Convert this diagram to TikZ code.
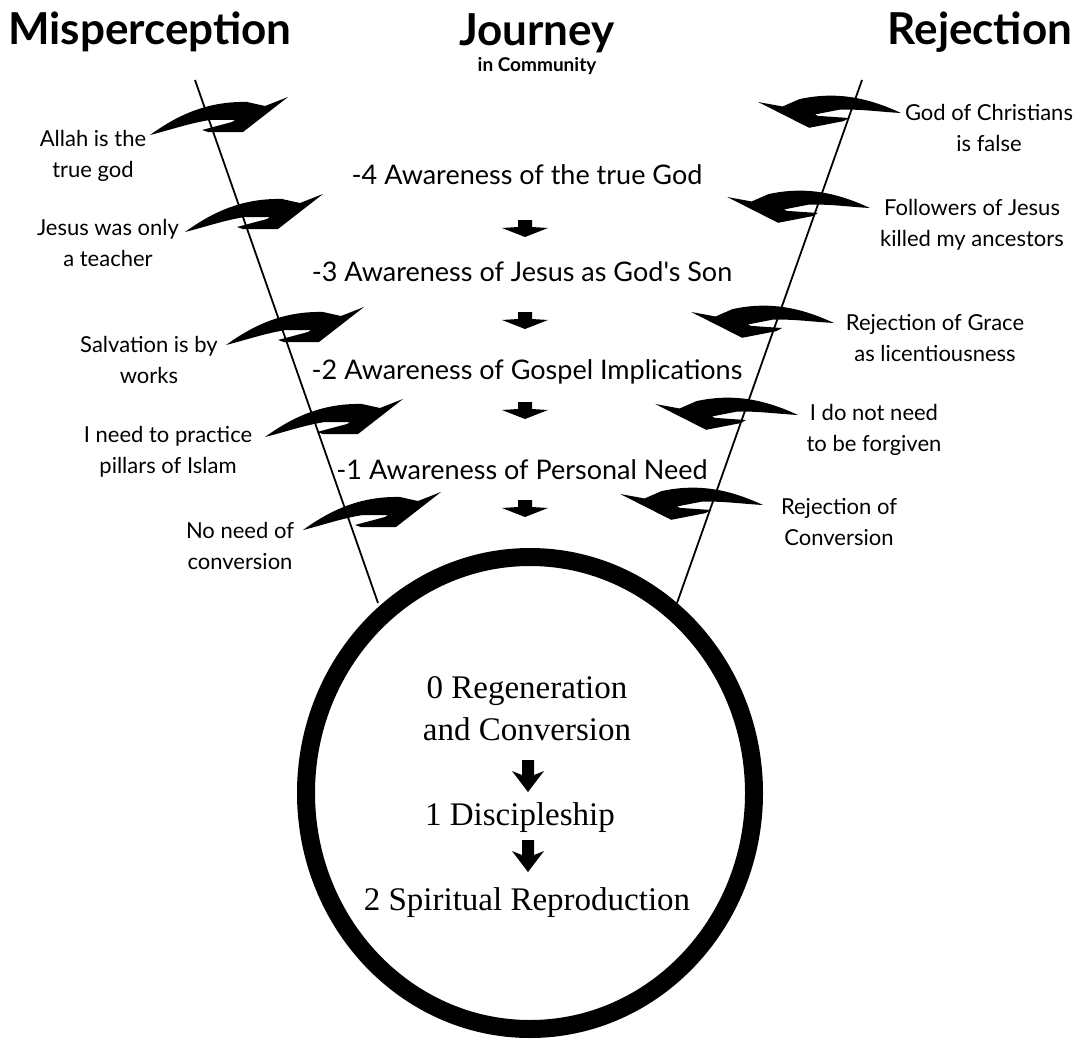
\documentclass[tikz,border=0pt]{standalone}
\usepackage{fontspec}
\setmainfont{Liberation Serif}
\newfontfamily\labelfont{Lato}
\usetikzlibrary{shapes.geometric, positioning}
\tikzset{
  titletext/.style={font=\labelfont\bfseries\fontsize{44}{48}\selectfont, inner sep=0pt},
  stagetext/.style={font=\labelfont\fontsize{27}{30}\selectfont, inner sep=0pt},
  barriertext/.style={font=\labelfont\fontsize{22}{31}\selectfont, align=center, inner sep=0pt},
  corestage/.style={font=\fontsize{33}{42}\selectfont, align=center, inner sep=0pt},
  funnelline/.style={line width=1.8pt, black},
  corering/.style={draw, ellipse, line width=18pt, minimum width=448pt, minimum height=472pt}
}
% swoosh: a barrier thrown back at the traveller
\newcommand{\swooshpath}{(0,0) .. controls (25,-18) and (55,-34) .. (97,-33) -- (115,-29) -- (138,-38) -- (93,-3) -- (58,-3) -- (52,-5) -- (82,-13) -- (85,-15) -- (60,-15) .. controls (40,-12) and (20,-5) .. (0,0) -- cycle}
\newcommand{\misswoosh}[1]{\fill[shift={(#1)}] \swooshpath;}
\newcommand{\rejswoosh}[1]{\fill[shift={(#1)}, rotate=11, xscale=-1] \swooshpath;}
\newcommand{\stagestep}[1]{\fill[shift={(#1)}] (-7,0) -- (7,0) -- (7,7) -- (23,8) -- (0,17) -- (-23,8) -- (-7,7) -- cycle;}
\newcommand{\corestep}[1]{\fill[shift={(#1)}] (-6,0) -- (6,0) -- (6,15) -- (16,11) -- (0,32) -- (-16,11) -- (-6,15) -- cycle;}

\begin{document}
\begin{tikzpicture}[x=1pt, y=-1pt]
    \useasboundingbox (0,0) rectangle (1086,1046);
    % headings
    \node[titletext] (miss) at (150,32) {Misperception};
    \node[titletext] (journey) at (537,33) {Journey};
    \node[font=\labelfont\bfseries\fontsize{19}{21}\selectfont, inner sep=0pt, below=4pt of journey] (community) {in Community};
    \node[titletext] (reject) at (980,32) {Rejection};
    % funnel walls
    \coordinate (misstop) at (195,80);
    \coordinate (missfoot) at (378,603);
    \coordinate (rejtop) at (862,80);
    \coordinate (rejfoot) at (677,603);
    \draw[funnelline] (misstop) -- (missfoot);
    \draw[funnelline] (rejtop) -- (rejfoot);
    % stages of awareness
    \node[stagetext] (s4) at (527,175) {-4 Awareness of the true God};
    \node[stagetext] (s3) at (522,272) {-3 Awareness of Jesus as God's Son};
    \node[stagetext] (s2) at (527,372) {-2 Awareness of Gospel Implications};
    \node[stagetext] (s1) at (522,470) {-1 Awareness of Personal Need};
    \coordinate (a43) at (525,220);
    \coordinate (a32) at (525,312);
    \coordinate (a21) at (525,402);
    \coordinate (a10) at (525,500);
    \stagestep{a43}
    \stagestep{a32}
    \stagestep{a21}
    \stagestep{a10}
    % misperceptions
    \node[barriertext] (m1) at (93,156) {Allah is the\\true god};
    \node[barriertext] (m2) at (108,243) {Jesus was only\\a teacher};
    \node[barriertext] (m3) at (149,360) {Salvation is by\\works};
    \node[barriertext] (m4) at (168,452) {I need to practice\\pillars of Islam};
    \node[barriertext] (m5) at (240,546) {No need of\\conversion};
    \coordinate (w1) at (150,135);
    \coordinate (w2) at (185,232);
    \coordinate (w3) at (226,345);
    \coordinate (w4) at (265,437);
    \coordinate (w5) at (303,530);
    \misswoosh{w1}
    \misswoosh{w2}
    \misswoosh{w3}
    \misswoosh{w4}
    \misswoosh{w5}
    % rejections
    \node[barriertext] (r1) at (989,128) {God of Christians\\is false};
    \node[barriertext] (r2) at (972,225) {Followers of Jesus\\killed my ancestors};
    \node[barriertext] (r3) at (935,338) {Rejection of Grace\\as licentiousness};
    \node[barriertext] (r4) at (874,430) {I do not need\\to be forgiven};
    \node[barriertext] (r5) at (839,522) {Rejection of\\Conversion};
    \coordinate (v1) at (901,113);
    \coordinate (v2) at (870,208);
    \coordinate (v3) at (834,323);
    \coordinate (v4) at (798,415);
    \coordinate (v5) at (763,505);
    \rejswoosh{v1}
    \rejswoosh{v2}
    \rejswoosh{v3}
    \rejswoosh{v4}
    \rejswoosh{v5}
    % the new life
    \node[corering] (core) at (530,793) {};
    \node[corestage] (c0) at (527,709) {0 Regeneration\\and Conversion};
    \node[corestage] (c1) at (520,818) {1 Discipleship};
    \node[corestage] (c2) at (527,903) {2 Spiritual Reproduction};
    \coordinate (b01) at (528,760);
    \coordinate (b12) at (528,840);
    \corestep{b01}
    \corestep{b12}
\end{tikzpicture}
\end{document}
